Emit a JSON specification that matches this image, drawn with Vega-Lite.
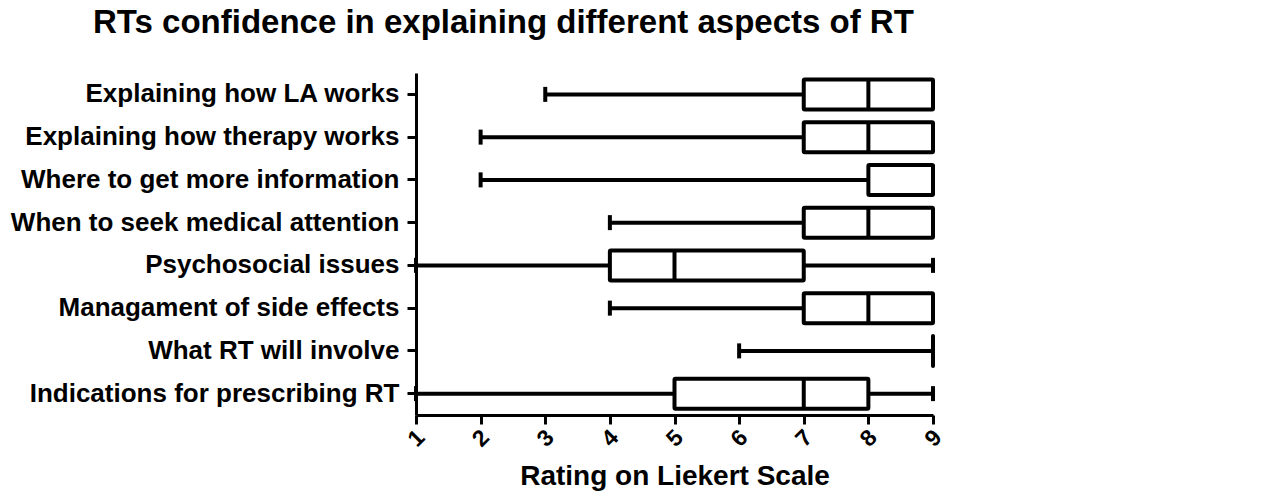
{
  "$schema": "https://vega.github.io/schema/vega-lite/v6.json",
  "autosize": "none",
  "padding": {"left": 416, "top": 73, "right": 341, "bottom": 83},
  "width": 517,
  "height": 342,
  "background": "white",
  "config": {
    "font": "Liberation Sans",
    "view": {"stroke": null},
    "axis": {
      "domainColor": "black",
      "tickColor": "black",
      "labelColor": "black",
      "titleColor": "black",
      "domainWidth": 3,
      "tickWidth": 3,
      "tickSize": 9,
      "grid": false,
      "labelFontWeight": "bold",
      "titleFontWeight": "bold"
    }
  },
  "title": {
    "text": "RTs confidence in explaining different aspects of RT",
    "anchor": "start",
    "frame": "group",
    "dx": -323,
    "offset": 7,
    "baseline": "alphabetic",
    "fontSize": 33,
    "fontWeight": "bold",
    "font": "Liberation Sans",
    "color": "black"
  },
  "data": {
    "values": [
      {"label": "Explaining how LA works", "min": 3, "q1": 7, "median": 8, "q3": 9, "max": 9},
      {"label": "Explaining how therapy works", "min": 2, "q1": 7, "median": 8, "q3": 9, "max": 9},
      {"label": "Where to get more information", "min": 2, "q1": 8, "median": 9, "q3": 9, "max": 9},
      {"label": "When to seek medical attention", "min": 4, "q1": 7, "median": 8, "q3": 9, "max": 9},
      {"label": "Psychosocial issues", "min": 1, "q1": 4, "median": 5, "q3": 7, "max": 9},
      {"label": "Managament of side effects", "min": 4, "q1": 7, "median": 8, "q3": 9, "max": 9},
      {"label": "What RT will involve", "min": 6, "q1": 9, "median": 9, "q3": 9, "max": 9},
      {"label": "Indications for prescribing RT", "min": 1, "q1": 5, "median": 7, "q3": 8, "max": 9}
    ]
  },
  "encoding": {
    "y": {
      "field": "label",
      "type": "nominal",
      "sort": null,
      "scale": {"paddingInner": 0, "paddingOuter": 0},
      "axis": {"title": null, "labelFontSize": 26, "labelPadding": 8, "labelLimit": 500}
    }
  },
  "layer": [
    {
      "mark": {"type": "rule", "color": "black", "strokeWidth": 4},
      "encoding": {
        "x": {
          "field": "min",
          "type": "quantitative",
          "scale": {"domain": [1, 9], "nice": false, "zero": false},
          "axis": {
            "values": [1, 2, 3, 4, 5, 6, 7, 8, 9],
            "format": "d",
            "title": "Rating on Liekert Scale",
            "titleFontSize": 28,
            "titlePadding": 11,
            "labelFontSize": 23,
            "labelAngle": -45,
            "labelAlign": "center",
            "labelBaseline": "middle",
            "labelPadding": 14
          }
        },
        "x2": {"field": "max"}
      }
    },
    {
      "mark": {"type": "tick", "color": "black", "thickness": 4, "size": 15, "opacity": 1},
      "encoding": {"x": {"field": "min", "type": "quantitative"}}
    },
    {
      "mark": {"type": "tick", "color": "black", "thickness": 4, "size": 15, "opacity": 1},
      "encoding": {"x": {"field": "max", "type": "quantitative"}}
    },
    {
      "mark": {"type": "bar", "fill": "white", "stroke": "black", "strokeWidth": 4, "size": 30, "strokeJoin": "round", "cornerRadius": 1},
      "encoding": {
        "x": {"field": "q1", "type": "quantitative"},
        "x2": {"field": "q3"}
      }
    },
    {
      "mark": {"type": "tick", "color": "black", "thickness": 4, "size": 30, "opacity": 1},
      "encoding": {"x": {"field": "median", "type": "quantitative"}}
    }
  ]
}
